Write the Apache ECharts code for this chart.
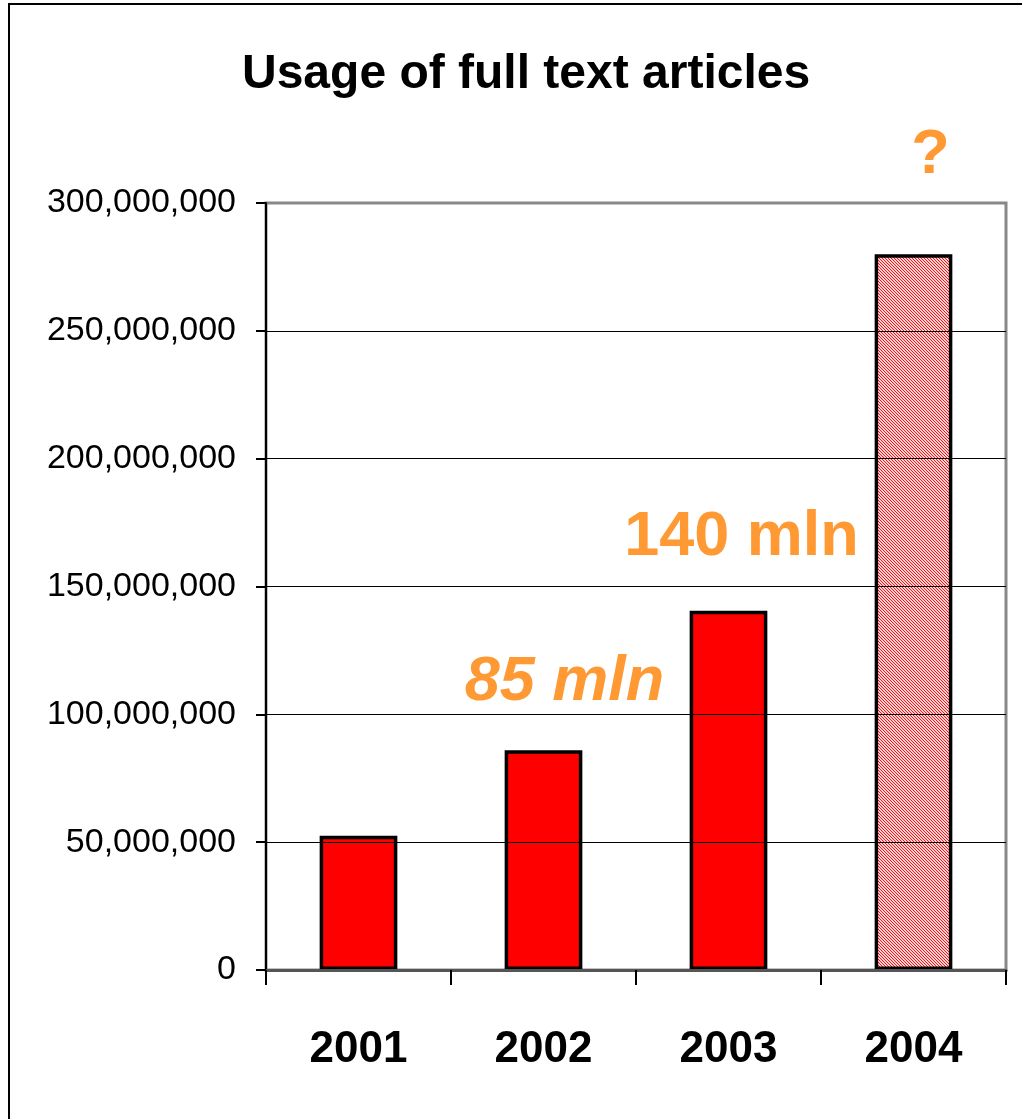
<!DOCTYPE html>
<html>
<head>
<meta charset="utf-8">
<style>html,body{margin:0;padding:0;background:#fff}#c{width:1022px;height:1119px}</style>
<script src="https://cdn.jsdelivr.net/npm/echarts@6/dist/echarts.min.js"></script>
</head>
<body>
<div id="c"></div>
<script>
const years = ['2001', '2002', '2003', '2004'];
const usage = [52500000, 86000000, 140500000, 280000000];
const barNotes = ['', '85 mln', '140 mln', '?'];
const yTicks = [0, 50000000, 100000000, 150000000, 200000000, 250000000, 300000000];

const FONT = 'Arial, "Liberation Sans", sans-serif';
const ORANGE = '#FF9933';

// hatch pattern for the projected year
const pc = document.createElement('canvas');
pc.width = 3; pc.height = 3;
const px = pc.getContext('2d');
px.fillStyle = '#ffd6d6'; px.fillRect(0, 0, 3, 3);
px.fillStyle = '#ff1010';
for (let i = 0; i < 3; i++) { px.fillRect(i, i, 1, 1); }

const noteStyle = [
  null,
  { fontStyle: 'italic', offset: [21, -36] },
  { fontStyle: 'normal', offset: [13, -42] },
  { fontStyle: 'normal', offset: [17, -67] }
];

const data = usage.map((v, i) => {
  const d = { value: v, itemStyle: { color: i === 3 ? { image: pc, repeat: 'repeat' } : '#ff0000' } };
  if (barNotes[i]) {
    d.label = {
      show: true, position: 'top', distance: 0,
      formatter: barNotes[i], color: ORANGE, fontSize: 63, fontWeight: 'bold',
      fontFamily: FONT, fontStyle: noteStyle[i].fontStyle, offset: noteStyle[i].offset
    };
  }
  return d;
});

const chart = echarts.init(document.getElementById('c'), null, { renderer: 'canvas' });
chart.setOption({
  animation: false,
  backgroundColor: '#fff',
  title: {
    text: 'Usage of full text articles', left: 237, top: 46,
    textStyle: { fontSize: 48, fontWeight: 'bold', color: '#000', fontFamily: FONT }
  },
  graphic: [{
    type: 'rect', shape: { x: 9, y: 4, width: 1100, height: 1200 },
    style: { fill: 'none', stroke: '#000', lineWidth: 2 }, silent: true, z: 100
  }],
  grid: {
    left: 266, right: 16, top: 203, bottom: 149,
    show: true, borderColor: '#888', borderWidth: 3, backgroundColor: 'transparent'
  },
  xAxis: {
    type: 'category', data: years,
    axisLine: { lineStyle: { color: '#555', width: 3 } },
    axisTick: { show: true, length: 15, lineStyle: { color: '#000', width: 2 } },
    axisLabel: { fontSize: 44, fontWeight: 'bold', color: '#000', fontFamily: FONT, margin: 58 },
    z: 10
  },
  yAxis: {
    type: 'value', min: 0, max: 300000000, interval: 50000000,
    axisLine: { show: true, lineStyle: { color: '#000', width: 2 } },
    axisTick: { show: true, length: 10, lineStyle: { color: '#000', width: 2 } },
    axisLabel: {
      fontSize: 34, color: '#000', fontFamily: FONT, margin: 30,
      formatter: v => yTicks.includes(v) ? v.toLocaleString('en-US') : ''
    },
    splitLine: { show: true, showMaxLine: false, lineStyle: { color: '#000', width: 1 } },
    z: 10
  },
  series: [{
    type: 'bar', data: data, barWidth: '42%',
    itemStyle: { borderColor: '#000', borderWidth: 3.5 }
  }]
});
</script>
</body>
</html>
